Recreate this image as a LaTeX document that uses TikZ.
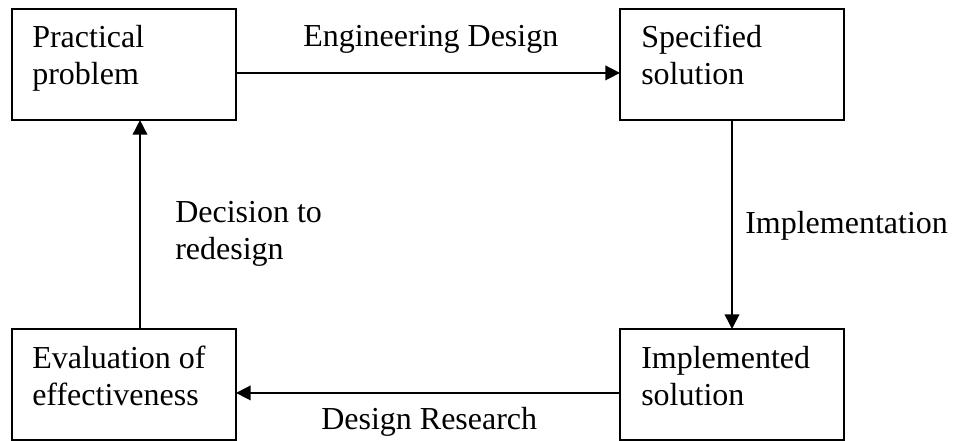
\documentclass[tikz,border=0pt]{standalone}
\usepackage{fontspec}
\setmainfont{Liberation Serif}
\usetikzlibrary{arrows.meta}
\begin{document}
\begin{tikzpicture}[x=0.75pt,y=-0.75pt,
  box/.style={draw, line width=1.2pt, rectangle, minimum width=168pt, minimum height=83.3pt, inner sep=0pt, outer sep=0pt, anchor=north west},
  lbl/.style={anchor=base west, inner sep=0pt, font=\fontsize{24}{27.6}\selectfont},
  arr/.style={line width=1.2pt, -{Triangle[length=11pt,width=11pt]}}]
\useasboundingbox (0,0) rectangle (953,441);
% boxes
\node[box] (pp) at (12,9) {};
\node[box] (ss) at (620,9) {};
\node[box] (ev) at (12,329) {};
\node[box] (im) at (620,329) {};
% box texts
\node[lbl] (ppt) at (32,48) {\begin{tabular}[t]{@{}l@{}}Practical\\problem\end{tabular}};
\node[lbl] (sst) at (641,48) {\begin{tabular}[t]{@{}l@{}}Specified\\solution\end{tabular}};
\node[lbl] (evt) at (32,369) {\begin{tabular}[t]{@{}l@{}}Evaluation of\\effectiveness\end{tabular}};
\node[lbl] (imt) at (641,369) {\begin{tabular}[t]{@{}l@{}}Implemented\\solution\end{tabular}};
% connector labels
\node[lbl] (l1) at (303,47) {Engineering Design};
\node[lbl] (l2) at (745,234) {Implementation};
\node[lbl] (l3) at (175,223) {\begin{tabular}[t]{@{}l@{}}Decision to\\redesign\end{tabular}};
\node[lbl] (l4) at (321,430) {Design Research};
% connectors
\draw[arr] ([yshift=-6.3pt]pp.east) -- ([yshift=-6.3pt]ss.west);
\draw[arr] (ss.south) -- (im.north);
\draw[arr] ([yshift=-6.3pt]im.west) -- ([yshift=-6.3pt]ev.east);
\draw[arr] ([xshift=12pt]ev.north) -- ([xshift=12pt]pp.south);
\end{tikzpicture}
\end{document}
